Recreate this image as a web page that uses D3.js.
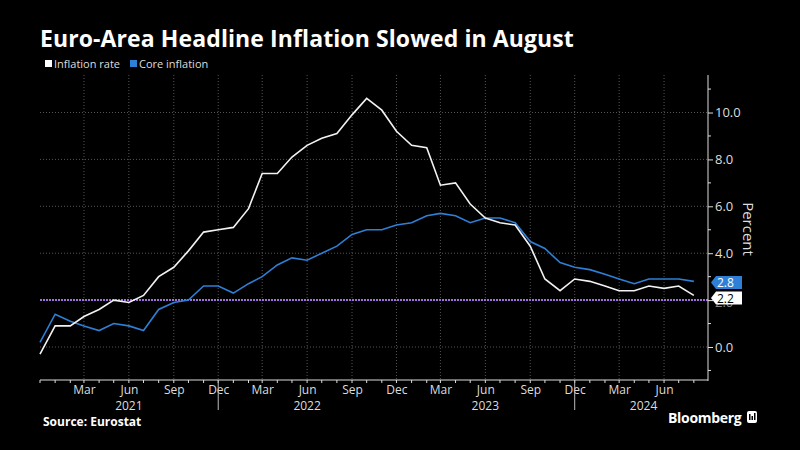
<!DOCTYPE html>
<html><head><meta charset="utf-8">
<script src="https://cdn.jsdelivr.net/npm/d3@7"></script>
<style>body{margin:0;background:#000}svg{display:block}text{font-family:"Open Sans",sans-serif}</style>
</head><body><svg id="c" width="800" height="450"></svg>
<script>
const months = ["2020-12","2021-01","2021-02","2021-03","2021-04","2021-05","2021-06","2021-07","2021-08","2021-09","2021-10","2021-11","2021-12","2022-01","2022-02","2022-03","2022-04","2022-05","2022-06","2022-07","2022-08","2022-09","2022-10","2022-11","2022-12","2023-01","2023-02","2023-03","2023-04","2023-05","2023-06","2023-07","2023-08","2023-09","2023-10","2023-11","2023-12","2024-01","2024-02","2024-03","2024-04","2024-05","2024-06","2024-07","2024-08"];
const inflationRate = [-0.3,0.9,0.9,1.3,1.6,2.0,1.9,2.2,3.0,3.4,4.1,4.9,5.0,5.1,5.9,7.4,7.4,8.1,8.6,8.9,9.1,9.9,10.6,10.1,9.2,8.6,8.5,6.9,7.0,6.1,5.5,5.3,5.2,4.3,2.9,2.4,2.9,2.8,2.6,2.4,2.4,2.6,2.5,2.6,2.2];
const coreInflation = [0.2,1.4,1.1,0.9,0.7,1.0,0.9,0.7,1.6,1.9,2.0,2.6,2.6,2.3,2.7,3.0,3.5,3.8,3.7,4.0,4.3,4.8,5.0,5.0,5.2,5.3,5.6,5.7,5.6,5.3,5.5,5.5,5.3,4.5,4.2,3.6,3.4,3.3,3.1,2.9,2.7,2.9,2.9,2.9,2.8];
const yTicks = [0,2,4,6,8,10];
const yMinor = [-1,1,3,5,7,9,11];
const targetLevel = 2.0;
const yearLabels = [{y:"2021",m:"2021-06"},{y:"2022",m:"2022-06"},{y:"2023",m:"2023-06"},{y:"2024",m:"2024-04-20"}];
const separators = ["2021-12","2023-12"];

const svg = d3.select("#c");
const parse = s => s.length>7 ? d3.timeParse("%Y-%m-%d")(s) : d3.timeParse("%Y-%m")(s);
const dates = months.map(parse);
const x = d3.scaleTime().domain([parse("2020-12"), d3.timeDay.offset(parse("2024-09"),-2)]).range([40,708]);
const y = d3.scaleLinear().domain([-1.45,11.6]).range([381,75]);

// grid
const g = svg.append("g");
g.selectAll(".hg").data(yTicks.filter(d=>d!==targetLevel)).join("line")
  .attr("x1",40).attr("x2",708).attr("y1",d=>y(d)).attr("y2",d=>y(d))
  .attr("stroke","#555").attr("stroke-dasharray","1,2");
const qTicks = d3.timeMonth.range(parse("2021-03"), parse("2024-09")).filter(d=>d.getMonth()%3===2);
g.selectAll(".vg").data(qTicks).join("line")
  .attr("x1",d=>x(d)).attr("x2",d=>x(d)).attr("y1",75).attr("y2",380)
  .attr("stroke","#555").attr("stroke-dasharray","1,2");

// target line
svg.append("line").attr("x1",40).attr("x2",708).attr("y1",y(targetLevel)).attr("y2",y(targetLevel))
  .attr("stroke","#9f6fe0").attr("stroke-width",2).attr("stroke-dasharray","2,1");

// lines
const line = d3.line().x((d,i)=>x(dates[i])).y(d=>y(d));
svg.append("path").datum(coreInflation).attr("d",line).attr("fill","none").attr("stroke","#2e7fd6").attr("stroke-width",1.6);
svg.append("path").datum(inflationRate).attr("d",line).attr("fill","none").attr("stroke","#f2f2f2").attr("stroke-width",1.6);

// right axis
const ya = svg.append("g").attr("transform","translate(708,0)")
  .call(d3.axisRight(y).tickValues(yTicks).tickFormat(d3.format(".1f")).tickSize(5).tickPadding(2));
ya.select(".domain").attr("stroke","#ddd").attr("d","M0,75V381");
ya.selectAll(".tick line").attr("stroke","#ddd");
ya.selectAll("text").attr("fill","#ddd").style("font-size","13px");
ya.selectAll(".tick").filter(d=>d===targetLevel).select("text").attr("fill","#888").attr("dy","0.5em");
svg.append("g").selectAll("line").data(yMinor).join("line")
  .attr("x1",708).attr("x2",711).attr("y1",d=>y(d)).attr("y2",d=>y(d)).attr("stroke","#ddd");
svg.append("text").attr("transform","translate(743,229) rotate(90)").attr("text-anchor","middle")
  .attr("fill","#ddd").style("font-size","15px").text("Percent");

// bottom axis
const xa = svg.append("g").attr("transform","translate(0,380)")
  .call(d3.axisBottom(x).tickValues(qTicks).tickFormat(d3.timeFormat("%b")).tickSize(0).tickPadding(5));
xa.select(".domain").attr("stroke","#ddd").attr("d","M40,0H708");
xa.selectAll("text").attr("fill","#ddd").style("font-size","12px");
svg.append("g").selectAll("line").data(d3.timeMonth.range(parse("2020-12"), parse("2024-09"))).join("line")
  .attr("x1",d=>x(d)).attr("x2",d=>x(d)).attr("y1",380).attr("y2",383).attr("stroke","#ddd");
svg.append("g").selectAll("line").data(separators.map(parse)).join("line")
  .attr("x1",d=>x(d)).attr("x2",d=>x(d)).attr("y1",380).attr("y2",410).attr("stroke","#bbb");
svg.append("g").selectAll("text").data(yearLabels).join("text")
  .attr("x",d=>x(parse(d.m))).attr("y",409.5).attr("text-anchor","middle")
  .attr("fill","#ddd").style("font-size","12px").text(d=>d.y);

// callouts
function callout(val, cy, bg, fg){
  const gg = svg.append("g");
  gg.append("path").attr("d",`M711,${cy}L716,${cy-6.5}H742V${cy+6.5}H716Z`).attr("fill",bg);
  gg.append("text").attr("x",717).attr("y",cy+4.5).attr("fill",fg).style("font-size","12px").text(val.toFixed(1));
}
callout(coreInflation[coreInflation.length-1], 282.5, "#2e7fd6", "#fff");
callout(inflationRate[inflationRate.length-1], 298, "#ffffff", "#000");

// title & legend
svg.append("text").attr("x",40).attr("y",47).attr("fill","#fff").style("font-size","23px").style("font-weight","bold").style("letter-spacing","0.1px").text("Euro-Area Headline Inflation Slowed in August");
const leg = [{n:"Inflation rate",c:"#ffffff"},{n:"Core inflation",c:"#2e7fd6"}];
const lx=[45,130];
leg.forEach((d,i)=>{
  svg.append("rect").attr("x",lx[i]).attr("y",60).attr("width",7).attr("height",7).attr("fill",d.c);
  svg.append("text").attr("x",lx[i]+9).attr("y",68).attr("fill","#ddd").style("font-size","11px").text(d.n);
});
svg.append("text").attr("x",43).attr("y",426).attr("fill","#fff").style("font-size","12px").style("font-weight","bold").text("Source: Eurostat");
svg.append("text").attr("x",668).attr("y",423).attr("fill","#fff").style("font-size","14px").style("font-weight","bold").style("letter-spacing","-0.3px").text("Bloomberg");
svg.append("rect").attr("x",747).attr("y",411).attr("width",10).attr("height",12).attr("rx",2).attr("fill","#fff");
svg.append("g").selectAll("rect").data([[749,6],[751.5,4],[754,7]]).join("rect")
  .attr("x",d=>d[0]).attr("y",d=>420-d[1]).attr("width",1.5).attr("height",d=>d[1]).attr("fill","#000");
</script></body></html>
